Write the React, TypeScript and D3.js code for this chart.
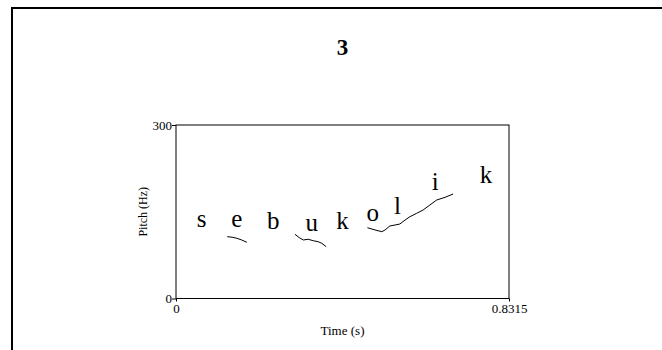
import React from "react";
import * as d3 from "d3";

// pitch track: [time (s), pitch (Hz)]
const contourE = [[0.128, 106.9], [0.140, 106.0], [0.152, 104.1], [0.164, 101.2], [0.177, 97.2]];
const contourU = [[0.297, 111.0], [0.308, 105.1], [0.318, 101.2], [0.330, 102.4], [0.343, 99.9], [0.355, 98.2], [0.364, 95.5], [0.375, 89.6]];
const contourOLI = [
    [0.478, 122.4], [0.497, 118.5], [0.514, 115.5], [0.522, 118.5], [0.534, 125.4], [0.547, 127.1],
    [0.559, 128.8], [0.572, 135.7], [0.584, 141.4], [0.601, 147.3], [0.617, 153.0], [0.634, 161.7],
    [0.651, 170.3], [0.672, 175.0], [0.692, 180.7]
];
const contours = [contourE, contourU, contourOLI];

// segment labels
const segments = ["s", "e", "b", "u", "k", "o", "l", "i", "k"];
const segTimes = [0.064, 0.152, 0.243, 0.339, 0.416, 0.491, 0.553, 0.647, 0.774];
const segPitch = [124.2, 123.1, 120.2, 117.2, 120.2, 134.0, 145.6, 187.6, 199.2];

const xTicks = [0, 0.8315];
const yTicks = [0, 300];
const title = "3";

const W = 662, H = 350;
const margin = {left: 176, right: 153, top: 125, bottom: 51.5};
const font = "'Liberation Serif', 'Times New Roman', serif";

const App = () => {
    const svgRef = React.useRef(null);

    React.useLayoutEffect(() => {
        const svg = d3.select(svgRef.current);
        svg.selectAll("*").remove();

        const x = d3.scaleLinear().domain([0, 0.8315]).range([margin.left, W - margin.right]);
        const y = d3.scaleLinear().domain([0, 300]).range([H - margin.bottom, margin.top]);

        // outer frame (top + left only visible)
        svg.append("path")
            .attr("d", `M12,${H} L12,8 L${W},8`)
            .attr("fill", "none")
            .attr("stroke", "black")
            .attr("stroke-width", 2);

        svg.append("text")
            .attr("x", x(0.8315 / 2))
            .attr("y", 55)
            .attr("text-anchor", "middle")
            .attr("font-family", font)
            .attr("font-weight", "bold")
            .attr("font-size", 23)
            .text(title);

        // plot box
        svg.append("rect")
            .attr("x", x(0))
            .attr("y", y(300))
            .attr("width", x(0.8315) - x(0))
            .attr("height", y(0) - y(300))
            .attr("fill", "none")
            .attr("stroke", "black")
            .attr("stroke-width", 1);

        const yAxis = d3.axisLeft(y).tickValues(yTicks).tickSize(4).tickSizeOuter(0).tickFormat(d3.format("d"));
        const gy = svg.append("g").attr("transform", `translate(${x(0)},0)`).call(yAxis);
        const xAxis = d3.axisBottom(x).tickValues(xTicks).tickSize(3).tickSizeOuter(0).tickFormat(d => String(d));
        const gx = svg.append("g").attr("transform", `translate(0,${y(0)})`).call(xAxis);
        [gx, gy].forEach(g => {
            g.select(".domain").remove();
            g.selectAll("line").attr("stroke", "black");
            g.selectAll("text")
                .attr("font-family", font)
                .attr("font-size", 13)
                .attr("fill", "black");
        });
        gy.selectAll("text").attr("x", -4);
        gx.selectAll("text").attr("y", 5);

        svg.append("text")
            .attr("x", x(0.8315 / 2))
            .attr("y", 335)
            .attr("text-anchor", "middle")
            .attr("font-family", font)
            .attr("font-size", 13)
            .text("Time (s)");
        svg.append("text")
            .attr("transform", `translate(147, ${y(150)}) rotate(-90)`)
            .attr("text-anchor", "middle")
            .attr("font-family", font)
            .attr("font-size", 12)
            .text("Pitch (Hz)");

        const line = d3.line().x(d => x(d[0])).y(d => y(d[1]));
        svg.append("g").selectAll("path")
            .data(contours)
            .join("path")
                .attr("d", line)
                .attr("fill", "none")
                .attr("stroke", "black")
                .attr("stroke-width", 1);

        svg.append("g").selectAll("text")
            .data(segments)
            .join("text")
                .attr("x", (d, i) => x(segTimes[i]))
                .attr("y", (d, i) => y(segPitch[i]))
                .attr("text-anchor", "middle")
                .attr("font-family", font)
                .attr("font-size", 25)
                .text(d => d);
    }, []);

    return (
        <div style={{position: "fixed", left: 0, top: 0, width: W, height: H, background: "white"}}>
            <svg ref={svgRef} width={W} height={H} style={{display: "block"}}/>
        </div>
    );
};

export default App;
